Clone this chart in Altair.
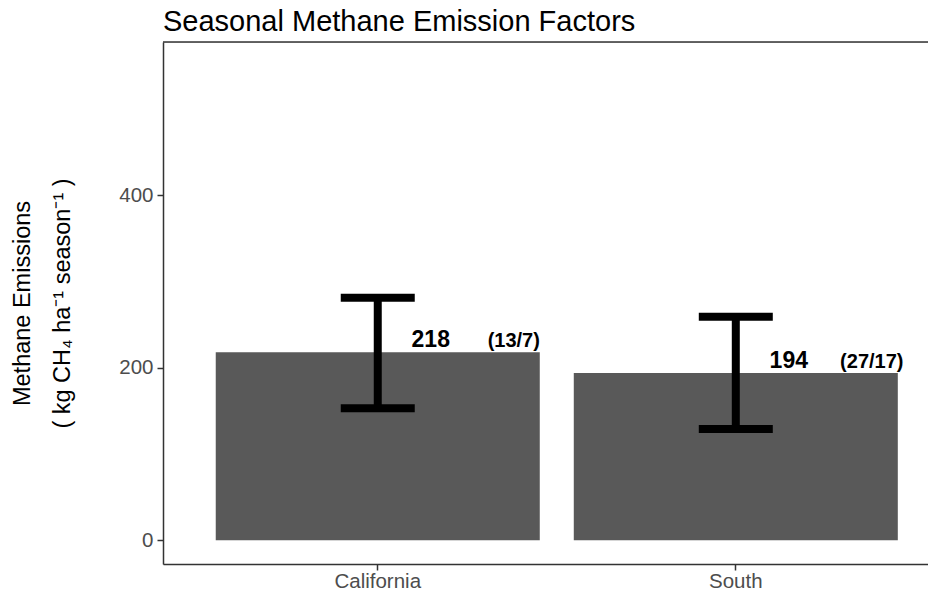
import altair as alt
import pandas as pd

regions = ["California", "South"]
means = [218, 194]
upper = [281, 259]
lower = [153, 129]
mean_labels = ["218", "194"]
n_labels = ["(13/7)", "(27/17)"]

df = pd.DataFrame({
    "region": regions,
    "mean": means,
    "upper": upper,
    "lower": lower,
    "mean_label": mean_labels,
    "n_label": n_labels,
})

W, H = 773, 522
FONT = "Liberation Sans"

x = alt.X(
    "region:N",
    sort=regions,
    scale=alt.Scale(paddingInner=0.095, paddingOuter=0.127, align=0.58),
    axis=alt.Axis(
        title=None, labelAngle=0, labelFontSize=20.5, labelColor="#4d4d4d",
        labelFont=FONT, tickSize=6, tickColor="#333333", tickWidth=1.5,
        domainColor="#333333", domainWidth=1.5, labelPadding=1,
    ),
)
yscale = alt.Scale(domain=[-27.5, 577.5], nice=False, zero=False)
yaxis = alt.Axis(
    title=["Methane Emissions", "( kg CH\u2084 ha\u207b\u00b9 season\u207b\u00b9 )"],
    titleFontSize=23.5, titleFont=FONT, titleFontWeight="normal", titleColor="black",
    titleLineHeight=40, titlePadding=44,
    values=[0, 200, 400], labelFontSize=20.5, labelColor="#4d4d4d", labelFont=FONT,
    tickSize=6, tickColor="#333333", tickWidth=1.5, domainColor="#333333",
    domainWidth=1.5, grid=False, labelPadding=4,
)

base = alt.Chart(df)

bars = base.mark_bar(color="#595959").encode(
    x=x,
    y=alt.Y("mean:Q", scale=yscale, axis=yaxis),
)
stem = base.mark_rule(color="black", strokeWidth=8).encode(
    x=x, y=alt.Y("lower:Q", scale=yscale), y2="upper:Q"
)
cap_hi = base.mark_tick(color="black", thickness=8, size=74, opacity=1).encode(
    x=x, y=alt.Y("upper:Q", scale=yscale)
)
cap_lo = base.mark_tick(color="black", thickness=8, size=74, opacity=1).encode(
    x=x, y=alt.Y("lower:Q", scale=yscale)
)
txt_mean = base.mark_text(
    font=FONT, fontSize=23, fontWeight="bold", color="black",
    baseline="alphabetic", dy=-5, xOffset=53,
).encode(x=x, y=alt.Y("mean:Q", scale=yscale), text="mean_label:N")
txt_n = base.mark_text(
    font=FONT, fontSize=20, fontWeight="bold", color="black",
    baseline="alphabetic", dy=-5, xOffset=136,
).encode(x=x, y=alt.Y("mean:Q", scale=yscale), text="n_label:N")
top_border = alt.Chart(pd.DataFrame({"a": [0]})).mark_rule(
    color="#333333", strokeWidth=1.5
).encode(x=alt.value(0), x2=alt.value(W), y=alt.value(0))

chart = alt.layer(bars, stem, cap_hi, cap_lo, txt_mean, txt_n, top_border).properties(
    width=W, height=H,
    title=alt.TitleParams(
        "Seasonal Methane Emission Factors", anchor="start", frame="group",
        fontSize=29, font=FONT, fontWeight="normal", color="black", offset=4,
    ),
    autosize=alt.AutoSizeParams(type="none"),
    padding={"left": 155, "top": 34, "right": -8, "bottom": 30},
).configure_view(stroke=None).configure(background="white")

chart.save("out.html", embed_options={"renderer": "svg", "actions": False})
